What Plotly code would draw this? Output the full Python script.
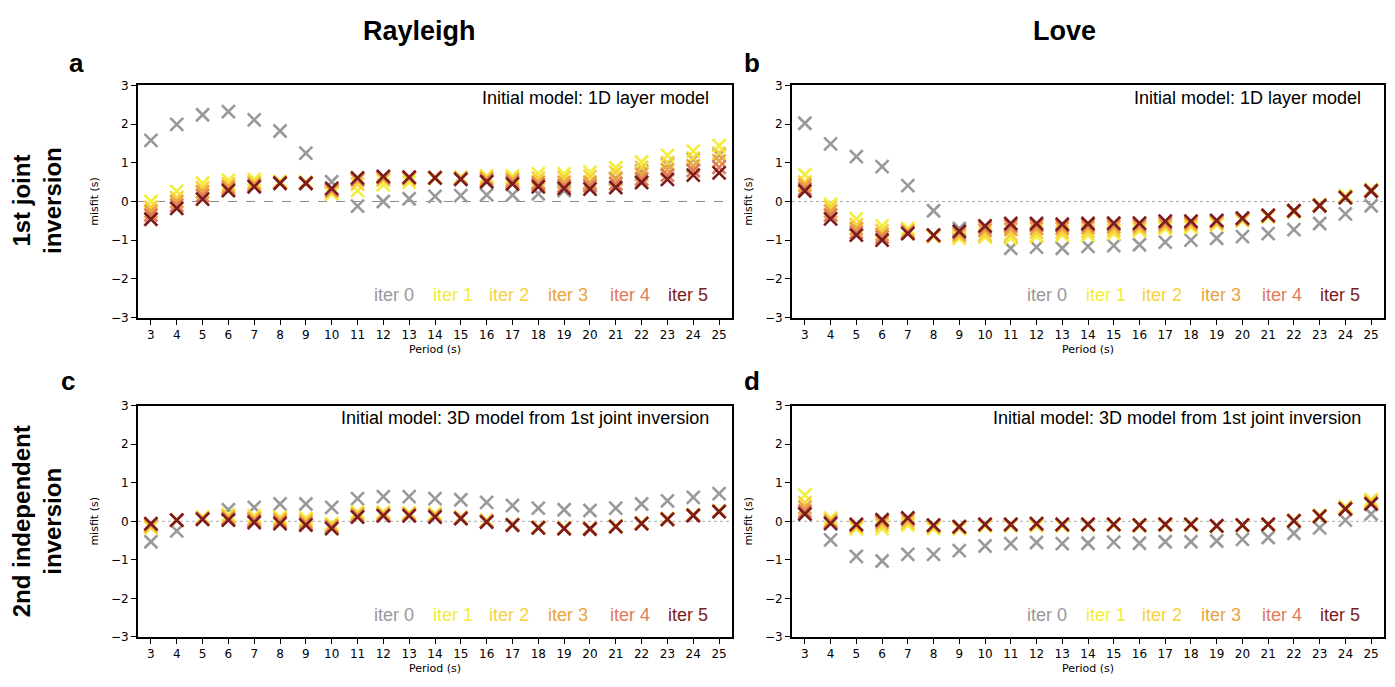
import plotly.graph_objects as go

periods = list(range(3, 26))
iter_labels = ["iter 0", "iter 1", "iter 2", "iter 3", "iter 4", "iter 5"]
iter_colors = ["#999999", "#f2ee3a", "#f7d23e", "#eba53c", "#e07b59", "#7b1c1c"]

# Panel a: Rayleigh, 1st joint inversion
ray1 = [
    [1.58, 1.99, 2.24, 2.32, 2.11, 1.82, 1.25, 0.51, -0.12, 0.0, 0.07, 0.13, 0.15, 0.17, 0.17, 0.2, 0.28, 0.45, 0.6, 0.78, 0.95, 1.08, 1.2],
    [0.0, 0.26, 0.47, 0.55, 0.57, 0.52, 0.5, 0.2, 0.28, 0.43, 0.5, 0.6, 0.62, 0.66, 0.66, 0.72, 0.72, 0.76, 0.87, 1.02, 1.19, 1.3, 1.44],
    [-0.15, 0.1, 0.35, 0.45, 0.5, 0.5, 0.48, 0.25, 0.45, 0.55, 0.58, 0.62, 0.62, 0.62, 0.6, 0.6, 0.62, 0.65, 0.75, 0.88, 1.0, 1.12, 1.25],
    [-0.25, 0.0, 0.25, 0.38, 0.45, 0.48, 0.47, 0.28, 0.55, 0.6, 0.6, 0.62, 0.6, 0.58, 0.55, 0.5, 0.5, 0.5, 0.58, 0.7, 0.82, 0.92, 1.05],
    [-0.35, -0.1, 0.15, 0.32, 0.4, 0.47, 0.47, 0.3, 0.58, 0.63, 0.62, 0.61, 0.58, 0.54, 0.5, 0.44, 0.4, 0.4, 0.46, 0.58, 0.68, 0.8, 0.88],
    [-0.46, -0.18, 0.06, 0.28, 0.38, 0.47, 0.47, 0.34, 0.61, 0.65, 0.63, 0.61, 0.57, 0.51, 0.45, 0.38, 0.34, 0.32, 0.36, 0.49, 0.57, 0.68, 0.74],
]

# Panel b: Love, 1st joint inversion
love1 = [
    [2.02, 1.49, 1.16, 0.9, 0.41, -0.24, -0.7, -0.91, -1.21, -1.18, -1.21, -1.16, -1.14, -1.12, -1.05, -1.0, -0.95, -0.91, -0.83, -0.73, -0.57, -0.32, -0.11],
    [0.69, -0.07, -0.45, -0.63, -0.7, -0.9, -0.95, -0.92, -0.95, -0.9, -0.87, -0.87, -0.83, -0.75, -0.7, -0.67, -0.6, -0.5, -0.4, -0.27, -0.08, 0.15, 0.3],
    [0.5, -0.15, -0.6, -0.75, -0.75, -0.9, -0.9, -0.85, -0.85, -0.8, -0.8, -0.78, -0.75, -0.7, -0.65, -0.62, -0.57, -0.48, -0.38, -0.26, -0.1, 0.12, 0.3],
    [0.42, -0.25, -0.7, -0.85, -0.78, -0.88, -0.85, -0.75, -0.72, -0.7, -0.7, -0.68, -0.66, -0.64, -0.6, -0.57, -0.53, -0.46, -0.37, -0.25, -0.1, 0.11, 0.28],
    [0.33, -0.35, -0.8, -0.92, -0.8, -0.87, -0.8, -0.68, -0.63, -0.62, -0.63, -0.61, -0.6, -0.59, -0.55, -0.54, -0.51, -0.44, -0.36, -0.24, -0.1, 0.1, 0.27],
    [0.27, -0.45, -0.87, -1.0, -0.83, -0.87, -0.77, -0.63, -0.57, -0.57, -0.59, -0.57, -0.56, -0.56, -0.51, -0.51, -0.49, -0.43, -0.36, -0.24, -0.11, 0.1, 0.27],
]

# Panel c: Rayleigh, 2nd independent inversion
ray2 = [
    [-0.53, -0.25, 0.08, 0.3, 0.36, 0.45, 0.45, 0.36, 0.59, 0.64, 0.64, 0.59, 0.56, 0.49, 0.41, 0.34, 0.3, 0.28, 0.34, 0.45, 0.53, 0.62, 0.72],
    [-0.17, 0.03, 0.11, 0.17, 0.14, 0.11, 0.08, -0.06, 0.24, 0.24, 0.22, 0.2, 0.11, 0.03, -0.08, -0.15, -0.17, -0.18, -0.12, -0.04, 0.07, 0.17, 0.27],
    [-0.13, 0.03, 0.09, 0.13, 0.09, 0.06, 0.03, -0.1, 0.2, 0.21, 0.2, 0.17, 0.1, 0.02, -0.08, -0.16, -0.18, -0.19, -0.13, -0.05, 0.06, 0.16, 0.26],
    [-0.1, 0.03, 0.07, 0.09, 0.05, 0.02, -0.02, -0.13, 0.17, 0.18, 0.18, 0.15, 0.09, 0.0, -0.09, -0.16, -0.18, -0.19, -0.13, -0.05, 0.06, 0.16, 0.26],
    [-0.08, 0.03, 0.06, 0.06, 0.01, -0.02, -0.06, -0.16, 0.13, 0.16, 0.16, 0.13, 0.08, -0.01, -0.1, -0.17, -0.19, -0.2, -0.14, -0.06, 0.05, 0.15, 0.25],
    [-0.06, 0.03, 0.05, 0.03, -0.03, -0.06, -0.1, -0.19, 0.11, 0.14, 0.14, 0.11, 0.07, -0.02, -0.1, -0.17, -0.19, -0.2, -0.14, -0.06, 0.05, 0.15, 0.25],
]

# Panel d: Love, 2nd independent inversion
love2 = [
    [0.2, -0.48, -0.91, -1.03, -0.86, -0.86, -0.76, -0.64, -0.58, -0.55, -0.58, -0.57, -0.54, -0.57, -0.53, -0.53, -0.51, -0.47, -0.42, -0.31, -0.17, 0.03, 0.19],
    [0.68, 0.08, -0.19, -0.19, -0.1, -0.19, -0.19, -0.12, -0.12, -0.12, -0.12, -0.1, -0.1, -0.12, -0.1, -0.1, -0.13, -0.11, -0.09, 0.02, 0.15, 0.38, 0.56],
    [0.48, 0.03, -0.14, -0.1, -0.04, -0.15, -0.17, -0.1, -0.1, -0.09, -0.1, -0.09, -0.09, -0.11, -0.09, -0.09, -0.12, -0.1, -0.08, 0.02, 0.14, 0.35, 0.52],
    [0.36, 0.0, -0.11, -0.03, 0.03, -0.12, -0.15, -0.09, -0.09, -0.07, -0.09, -0.08, -0.08, -0.1, -0.08, -0.08, -0.12, -0.1, -0.08, 0.01, 0.13, 0.33, 0.48],
    [0.26, -0.03, -0.09, 0.01, 0.07, -0.11, -0.14, -0.08, -0.08, -0.06, -0.08, -0.08, -0.08, -0.1, -0.08, -0.08, -0.12, -0.1, -0.08, 0.01, 0.13, 0.32, 0.46],
    [0.19, -0.06, -0.08, 0.04, 0.09, -0.1, -0.14, -0.08, -0.08, -0.06, -0.08, -0.08, -0.08, -0.1, -0.08, -0.08, -0.12, -0.1, -0.08, 0.01, 0.13, 0.32, 0.45],
]

panels = [
    ("x", "y", ray1, "Initial model: 1D layer model", "dash"),
    ("x2", "y2", love1, "Initial model: 1D layer model", "dot"),
    ("x3", "y3", ray2, "Initial model: 3D model from 1st joint inversion", "dot"),
    ("x4", "y4", love2, "Initial model: 3D model from 1st joint inversion", "dot"),
]

W, H = 1395, 687
xdom_l = [138 / W, 732 / W]
xdom_r = [792 / W, 1384 / W]
ydom_t = [1 - 317 / H, 1 - 80 / H]
ydom_b = [1 - 643 / H, 1 - 407 / H]
domains = [(xdom_l, ydom_t), (xdom_r, ydom_t), (xdom_l, ydom_b), (xdom_r, ydom_b)]

fig = go.Figure()
for (xa, ya, data, _, _) in panels:
    for k in range(6):
        fig.add_trace(go.Scatter(
            x=periods, y=data[k], xaxis=xa, yaxis=ya, mode="markers",
            marker=dict(symbol="x-thin-open", size=13, color=iter_colors[k],
                        line=dict(color=iter_colors[k], width=2.6)),
            showlegend=False, hoverinfo="skip"))

tickfont = dict(family="DejaVu Sans", size=12, color="black")
layout = dict(width=W, height=H, autosize=False, margin=dict(l=0, r=0, t=0, b=0),
              plot_bgcolor="white", paper_bgcolor="white", showlegend=False)
annotations = []
shapes = []
for i, (xa, ya, data, txt, dashstyle) in enumerate(panels):
    xname = "xaxis" if i == 0 else f"xaxis{i+1}"
    yname = "yaxis" if i == 0 else f"yaxis{i+1}"
    xd, yd = domains[i]
    layout[xname] = dict(domain=xd, anchor=ya, range=[2.5, 25.5], tickmode="array",
                         tickvals=periods, ticktext=[str(p) for p in periods],
                         showgrid=False, zeroline=False, showline=True, linecolor="black",
                         linewidth=2, mirror=True, ticks="outside", ticklen=5, tickwidth=1.2,
                         tickcolor="black", tickfont=tickfont,
                         title=dict(text="Period (s)", font=dict(family="DejaVu Sans", size=11, color="black"), standoff=4))
    layout[yname] = dict(domain=yd, anchor=xa, range=[-3, 3], tickmode="array",
                         tickvals=[-3, -2, -1, 0, 1, 2, 3],
                         showgrid=False, zeroline=False, showline=True, linecolor="black",
                         linewidth=2, mirror=True, ticks="outside", ticklen=5, tickwidth=1.2,
                         tickcolor="black", tickfont=tickfont,
                         title=dict(text="misfit (s)", font=dict(family="DejaVu Sans", size=11, color="black"), standoff=10))
    xdref = ("x" if i == 0 else f"x{i+1}") + " domain"
    ydref = ("y" if i == 0 else f"y{i+1}") + " domain"
    shapes.append(dict(type="line", xref=xdref, yref=ya, x0=0, x1=1, y0=0, y1=0,
                       line=dict(color="#888888" if dashstyle == "dash" else "#aaaaaa",
                                 width=1, dash=dashstyle), layer="below"))
    annotations.append(dict(text=txt, xref=xdref, yref=ydref, x=0.965, y=0.945,
                            xanchor="right", yanchor="middle", showarrow=False,
                            font=dict(family="Liberation Sans", size=18, color="black")))
    # legend as coloured text
    lefts = [0.394, 0.494, 0.587, 0.687, 0.791, 0.889]
    for k in range(6):
        annotations.append(dict(text=iter_labels[k], xref=xdref, yref=ydref, x=lefts[k], y=0.095,
                                xanchor="left", yanchor="middle", showarrow=False,
                                font=dict(family="Liberation Sans", size=18, color=iter_colors[k])))

# Column titles
annotations.append(dict(text="<b>Rayleigh</b>", xref="paper", yref="paper", x=419 / W, y=1 - 24 / H,
                        xanchor="center", yanchor="middle", showarrow=False,
                        font=dict(family="Liberation Sans", size=27, color="black")))
annotations.append(dict(text="<b>Love</b>", xref="paper", yref="paper", x=1064 / W, y=1 - 24 / H,
                        xanchor="center", yanchor="middle", showarrow=False,
                        font=dict(family="Liberation Sans", size=27, color="black")))
# Panel letters
for letter, px, py in [("a", 76, 57), ("b", 752, 57), ("c", 68, 382), ("d", 752, 382)]:
    annotations.append(dict(text=f"<b>{letter}</b>", xref="paper", yref="paper", x=px / W, y=1 - py / H,
                            xanchor="center", yanchor="middle", showarrow=False,
                            font=dict(family="Liberation Sans", size=26, color="black")))
# Row labels
annotations.append(dict(text="<b>1st joint<br>inversion</b>", xref="paper", yref="paper", x=37 / W, y=1 - 198 / H,
                        xanchor="center", yanchor="middle", showarrow=False, textangle=-90,
                        font=dict(family="Liberation Sans", size=24, color="black")))
annotations.append(dict(text="<b>2nd independent<br>inversion</b>", xref="paper", yref="paper", x=37 / W, y=1 - 525 / H,
                        xanchor="center", yanchor="middle", showarrow=False, textangle=-90,
                        font=dict(family="Liberation Sans", size=24, color="black")))

layout["annotations"] = annotations
layout["shapes"] = shapes
fig.update_layout(**layout)
fig.write_html("out.html")
